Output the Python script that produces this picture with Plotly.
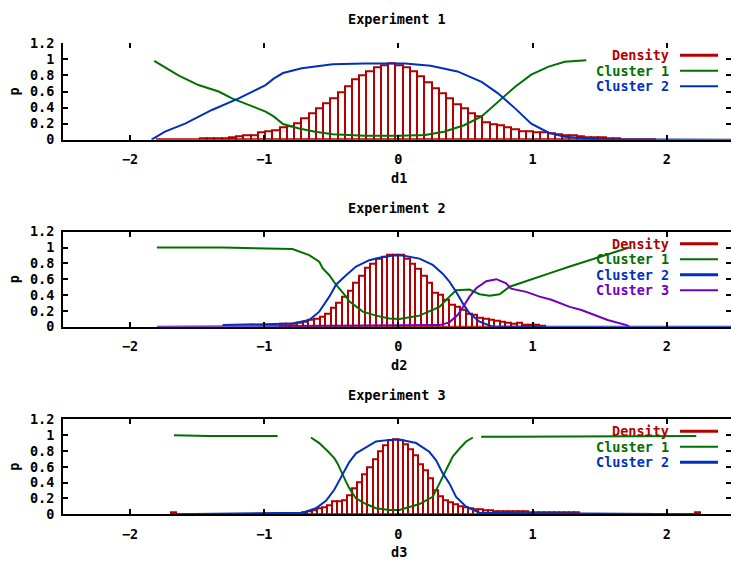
import plotly.graph_objects as go

# ---------------- data ----------------
# Experiment 1 density histogram (bin start, bin width, heights)
d1_start, d1_width = -1.804, 0.054
dens1 = [0.004, 0.004, 0.004, 0.004, 0.008, 0.01, 0.015, 0.017, 0.017, 0.017, 0.03, 0.046, 0.05,
         0.058, 0.087, 0.108, 0.12, 0.154, 0.17, 0.21, 0.266, 0.33, 0.39, 0.45, 0.52, 0.59, 0.67,
         0.75, 0.80, 0.85, 0.90, 0.92, 0.95, 0.93,
         0.90, 0.855, 0.79, 0.72, 0.64, 0.58, 0.51, 0.44, 0.39, 0.33, 0.29, 0.22, 0.195, 0.175,
         0.15, 0.13, 0.11, 0.10, 0.093, 0.087, 0.075, 0.066, 0.058,
         0.05, 0.045, 0.035, 0.03, 0.025, 0.02, 0.015, 0.01, 0.008, 0.008, 0.008, 0.008]
c1_1_x = [-1.82, -1.64, -1.49, -1.34, -1.24, -1.09, -0.99, -0.93, -0.86, -0.74, -0.62, -0.49, -0.25,
          0.0, 0.2, 0.34, 0.49, 0.62, 0.74, 0.87, 0.99, 1.12, 1.24, 1.40]
c1_1_y = [0.98, 0.80, 0.68, 0.60, 0.515, 0.41, 0.35, 0.29, 0.195, 0.14, 0.10, 0.067, 0.05,
          0.05, 0.06, 0.10, 0.18, 0.29, 0.47, 0.66, 0.81, 0.91, 0.97, 0.99]
c1_2_x = [-1.84, -1.74, -1.59, -1.39, -1.19, -1.11, -0.99, -0.93, -0.86, -0.72, -0.49, -0.25, 0.05,
          0.24, 0.44, 0.62, 0.74, 0.87, 0.99, 1.12, 1.24, 1.49, 2.48]
c1_2_y = [0.0, 0.10, 0.20, 0.37, 0.515, 0.58, 0.68, 0.76, 0.83, 0.89, 0.94, 0.95, 0.95,
          0.92, 0.85, 0.72, 0.58, 0.39, 0.20, 0.087, 0.037, 0.005, 0.0]

# Experiment 2
d2_start, d2_width = -0.882, 0.042
dens2 = [0.04, 0.04, 0.04, 0.045, 0.06, 0.085, 0.105, 0.13, 0.17, 0.24, 0.30, 0.38, 0.46, 0.55,
         0.65, 0.74, 0.80, 0.86, 0.89, 0.91, 0.91, 0.91, 0.855, 0.79, 0.73, 0.645, 0.56, 0.435,
         0.40, 0.34, 0.28, 0.25, 0.22, 0.17, 0.157, 0.115, 0.105, 0.085, 0.072, 0.06, 0.055, 0.04,
         0.045, 0.03, 0.03, 0.02, 0.015]
c2_1_x = [-1.80, -1.31, -0.79, -0.665, -0.59, -0.565, -0.515, -0.465, -0.39, -0.366, -0.266, -0.167,
          -0.067, 0.007, 0.157, 0.306, 0.38, 0.43, 0.53, 0.605, 0.68, 0.754, 0.829, 1.003, 1.152,
          1.277, 1.49, 1.72]
c2_1_y = [1.0, 1.0, 0.98, 0.905, 0.82, 0.74, 0.65, 0.53, 0.38, 0.32, 0.19, 0.14, 0.105, 0.097, 0.14,
          0.25, 0.38, 0.46, 0.47, 0.41, 0.39, 0.41, 0.505, 0.60, 0.69, 0.76, 0.88, 1.0]
c2_2_x = [-1.31, -0.79, -0.665, -0.59, -0.515, -0.465, -0.39, -0.316, -0.217, -0.142, -0.042, 0.03,
          0.157, 0.256, 0.33, 0.38, 0.43, 0.48, 0.53, 0.605, 0.704, 2.48]
c2_2_y = [0.02, 0.04, 0.085, 0.19, 0.38, 0.53, 0.65, 0.76, 0.84, 0.87, 0.90, 0.90, 0.86, 0.78, 0.67,
          0.57, 0.44, 0.295, 0.17, 0.063, 0.0, 0.0]
c2_3_x = [-1.80, 0.306, 0.38, 0.443, 0.49, 0.53, 0.58, 0.655, 0.73, 0.80, 0.84, 0.953, 1.053, 1.14,
          1.277, 1.364, 1.56, 1.70, 1.72]
c2_3_y = [0.0, 0.02, 0.055, 0.15, 0.27, 0.38, 0.485, 0.575, 0.60, 0.55, 0.48, 0.44, 0.38, 0.34,
          0.25, 0.21, 0.085, 0.02, 0.0]

# Experiment 3
d3_start, d3_width = -1.693, 0.0375
dens3 = [0.02,
         0.0, 0.0, 0.0, 0.0, 0.0, 0.0, 0.0, 0.0, 0.0, 0.0, 0.0, 0.0, 0.0,
         0.005, 0.005, 0.005, 0.005, 0.005, 0.005, 0.005, 0.005, 0.005, 0.005, 0.005, 0.005,
         0.03, 0.04, 0.054, 0.07, 0.09, 0.117, 0.16, 0.17, 0.18, 0.24, 0.33, 0.40, 0.505, 0.60,
         0.695, 0.79, 0.875, 0.93, 0.945, 0.93,
         0.887, 0.82, 0.75, 0.635, 0.55, 0.455, 0.30, 0.23, 0.18, 0.147, 0.13, 0.105, 0.088, 0.076,
         0.063, 0.063, 0.054, 0.054,
         0.04, 0.04, 0.04, 0.04, 0.04, 0.04, 0.035,
         0.03, 0.03, 0.03, 0.03, 0.03, 0.03, 0.03, 0.03, 0.02, 0.02,
         0.0, 0.0, 0.0, 0.0, 0.0, 0.0, 0.0, 0.0, 0.0, 0.0, 0.0, 0.0, 0.0, 0.0, 0.0, 0.0, 0.0, 0.0,
         0.0, 0.0, 0.0, 0.0, 0.0,
         0.02]
c3_1_x = [-1.673, -1.417, -0.90, None,
          -0.652, -0.59, -0.528, -0.478, -0.453, -0.428, -0.39, -0.366, -0.316, -0.241, -0.167,
          -0.067, 0.007, 0.157, 0.256, 0.306, 0.356, 0.405, 0.455, 0.505, 0.555, None,
          0.617, 0.717, 2.22]
c3_1_y = [1.0, 0.99, 0.99, None,
          0.97, 0.90, 0.80, 0.71, 0.64, 0.54, 0.41, 0.33, 0.20, 0.13, 0.076,
          0.054, 0.054, 0.13, 0.22, 0.39, 0.56, 0.73, 0.83, 0.92, 0.97, None,
          0.98, 0.98, 0.99]
c3_2_x = [-1.673, -1.163, -0.715, -0.615, -0.54, -0.478, -0.44, -0.403, -0.366, -0.316, -0.241,
          -0.167, -0.067, 0.007, 0.132, 0.23, 0.28, 0.33, 0.38, 0.43, 0.505, 0.605, 2.22]
c3_2_y = [0.0, 0.01, 0.02, 0.076, 0.17, 0.31, 0.43, 0.56, 0.66, 0.77, 0.85, 0.92, 0.94, 0.945,
          0.90, 0.79, 0.685, 0.52, 0.39, 0.22, 0.096, 0.02, 0.0]

titles = ["Experiment 1", "Experiment 2", "Experiment 3"]
xlabels = ["d1", "d2", "d3"]
ylabel = "p"
xticks = [-2, -1, 0, 1, 2]
yticks = [0, 0.2, 0.4, 0.6, 0.8, 1, 1.2]
yticklabels = ["0", "0.2", "0.4", "0.6", "0.8", "1", "1.2"]

# ---------------- style ----------------
W, H = 731, 561
RED, GREEN, BLUE, PURPLE = "#b40000", "#007000", "#0030c0", "#7000c0"
FONT = "DejaVu Sans Mono"
FS = 13.5
XR = [-2.5, 2.479]


def px(x):
    return x / W


def py(y):
    return 1 - y / H


def centers(start, width, n):
    return [start + width * (i + 0.5) for i in range(n)]


fig = go.Figure()

panels = [
    dict(dstart=d1_start, dw=d1_width, dens=dens1,
         curves=[("Cluster 1", c1_1_x, c1_1_y, GREEN, 2), ("Cluster 2", c1_2_x, c1_2_y, BLUE, 2)],
         top=43.3, bot=139.7),
    dict(dstart=d2_start, dw=d2_width, dens=dens2,
         curves=[("Cluster 1", c2_1_x, c2_1_y, GREEN, 2), ("Cluster 2", c2_2_x, c2_2_y, BLUE, 3),
                 ("Cluster 3", c2_3_x, c2_3_y, PURPLE, 2)],
         top=231.7, bot=326.7),
    dict(dstart=d3_start, dw=d3_width, dens=dens3,
         curves=[("Cluster 1", c3_1_x, c3_1_y, GREEN, 2), ("Cluster 2", c3_2_x, c3_2_y, BLUE, 3)],
         top=419.3, bot=514.3),
]

annotations = []
shapes = []
tickfont = dict(family=FONT, size=FS, color="black", weight="bold")

for i, p in enumerate(panels):
    n = i + 1
    xa = "x" if n == 1 else f"x{n}"
    ya = "y" if n == 1 else f"y{n}"
    fig.add_trace(go.Bar(
        x=centers(p["dstart"], p["dw"], len(p["dens"])), y=p["dens"], width=p["dw"],
        marker=dict(color="rgba(0,0,0,0)", line=dict(color=RED, width=2)),
        xaxis=xa, yaxis=ya, showlegend=False, hoverinfo="skip"))
    for name, cx, cy, col, _ in p["curves"]:
        fig.add_trace(go.Scatter(x=cx, y=cy, mode="lines", line=dict(color=col, width=2),
                                 connectgaps=False, xaxis=xa, yaxis=ya, showlegend=False,
                                 hoverinfo="skip"))

    dom_y = [py(p["bot"]), py(p["top"])]
    common_x = dict(range=XR, tickvals=xticks, ticks="inside", ticklen=5, tickwidth=1.5,
                    tickcolor="black", showgrid=False, zeroline=False, fixedrange=True,
                    automargin=False)
    common_y = dict(range=[0, 1.2], tickvals=yticks, ticks="inside", ticklen=5, tickwidth=1.5,
                    tickcolor="black", showgrid=False, zeroline=False, fixedrange=True,
                    automargin=False)
    fig.update_layout(**{
        ("xaxis" if n == 1 else f"xaxis{n}"): dict(
            domain=[px(63), 1], anchor=ya, showline=True, linecolor="black", linewidth=2,
            tickfont=tickfont, ticklabelstandoff=6, **common_x),
        ("yaxis" if n == 1 else f"yaxis{n}"): dict(
            domain=dom_y, anchor=xa, showline=True, linecolor="black", linewidth=2,
            ticktext=yticklabels, tickfont=tickfont, ticklabelstandoff=4, **common_y),
        f"xaxis{n + 3}": dict(
            domain=[px(63), 1], anchor=ya, overlaying=xa, side="top",
            showline=(n != 1), linecolor="black", linewidth=2, showticklabels=False, **common_x),
        f"yaxis{n + 3}": dict(
            domain=dom_y, anchor=xa, overlaying=ya, side="right", showline=False,
            showticklabels=False, **common_y),
    })
    # invisible traces so the overlay axes are drawn
    fig.add_trace(go.Scatter(x=[None], y=[None], xaxis=f"x{n + 3}", yaxis=ya,
                             showlegend=False, hoverinfo="skip"))
    fig.add_trace(go.Scatter(x=[None], y=[None], xaxis=xa, yaxis=f"y{n + 3}",
                             showlegend=False, hoverinfo="skip"))

    # title, axis labels
    tfont = dict(family=FONT, size=FS, color="black", weight="bold")
    annotations.append(dict(text=titles[i], x=px(397), y=py(p["top"] - 24), xref="paper",
                            yref="paper", showarrow=False, xanchor="center", yanchor="middle",
                            font=tfont))
    annotations.append(dict(text=xlabels[i], x=px(399), y=py(p["bot"] + 38), xref="paper",
                            yref="paper", showarrow=False, xanchor="center", yanchor="middle",
                            font=tfont))
    annotations.append(dict(text=ylabel, x=px(14), y=py((p["top"] + p["bot"]) / 2), xref="paper",
                            yref="paper", showarrow=False, textangle=-90, xanchor="center",
                            yanchor="middle", font=tfont))

    # legend (gnuplot style: right-justified coloured text, then line sample)
    entries = [("Density", RED, 3)] + [(c[0], c[3], c[4]) for c in p["curves"]]
    for k, (lab, col, lw) in enumerate(entries):
        yy = p["top"] + 12 + 15.5 * k
        annotations.append(dict(text=lab, x=px(671), y=py(yy), xref="paper", yref="paper",
                                showarrow=False, xanchor="right", yanchor="middle",
                                font=dict(family=FONT, size=FS, color=col, weight="bold")))
        shapes.append(dict(type="line", xref="paper", yref="paper", x0=px(680), x1=px(718),
                           y0=py(yy), y1=py(yy), line=dict(color=col, width=lw)))

fig.update_layout(
    width=W, height=H, autosize=False, margin=dict(l=0, r=0, t=0, b=0, pad=0),
    paper_bgcolor="white", plot_bgcolor="white",
    showlegend=False, bargap=0, annotations=annotations, shapes=shapes,
    font=dict(family=FONT, size=FS, color="black"),
)

fig.write_html(
    "out.html",
    config={"responsive": False, "displayModeBar": False},
    post_script=(
        "document.documentElement.style.margin='0';"
        "document.documentElement.style.overflow='hidden';"
        "document.body.style.margin='0';document.body.style.padding='0';"
        "document.body.style.overflow='hidden';"
        "var gd=document.getElementById('{plot_id}');"
        "gd.style.position='fixed';gd.style.top='0px';gd.style.left='0px';"
    ),
)
